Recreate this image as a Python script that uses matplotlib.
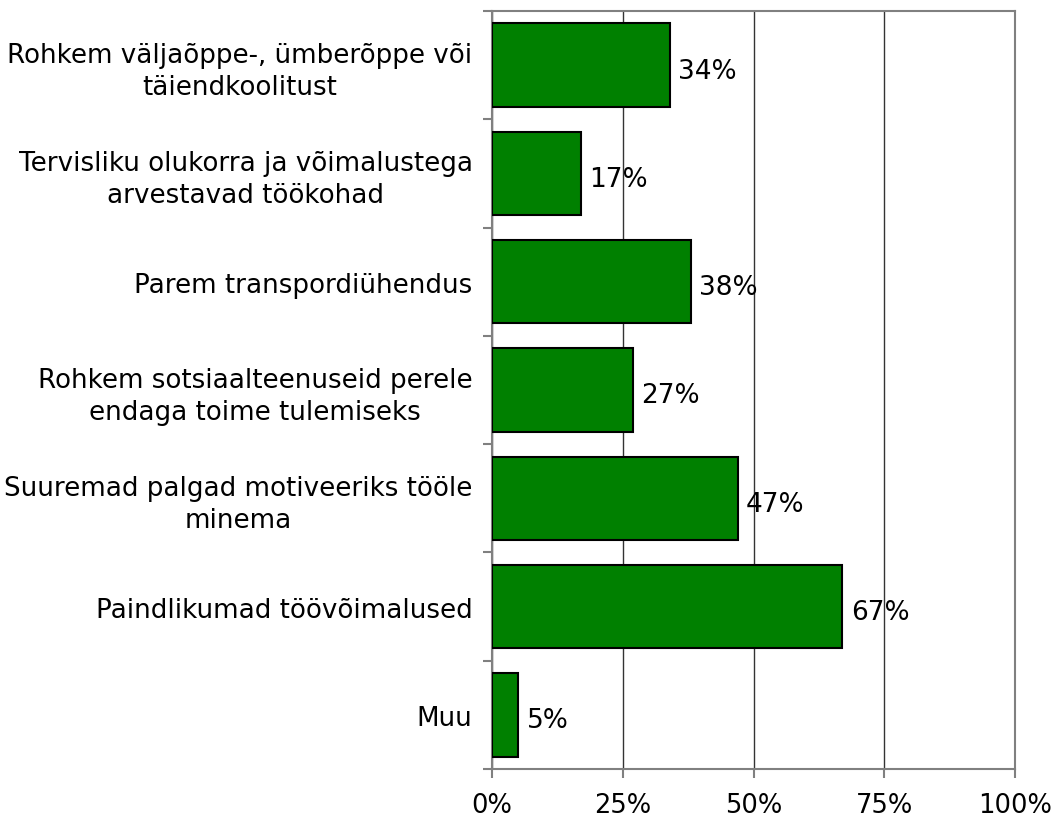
import matplotlib.pyplot as plt
from matplotlib.ticker import PercentFormatter

categories = [
    "Rohkem väljaõppe-, ümberõppe või\ntäiendkoolitust",
    "Tervisliku olukorra ja võimalustega\narvestavad töökohad",
    "Parem transpordiühendus",
    "Rohkem sotsiaalteenuseid perele\nendaga toime tulemiseks",
    "Suuremad palgad motiveeriks tööle\nminema",
    "Paindlikumad töövõimalused",
    "Muu",
]
values = [34, 17, 38, 27, 47, 67, 5]

fig = plt.figure(figsize=(10.58, 8.2), dpi=100)
ax = fig.add_axes([492 / 1058, 50 / 820, 523 / 1058, 758 / 820])

pos = list(range(len(categories)))
ax.barh(pos, values, height=0.77, color="#008000", edgecolor="black",
        linewidth=1.5, zorder=3)
for p, v in zip(pos, values):
    ax.text(v + 1.6, p + 0.05, f"{v}%", va="center", ha="left", fontsize=19,
            zorder=4)

ax.set_xlim(0, 100)
ax.set_ylim(len(categories) - 0.5, -0.5)
ax.set_xticks([0, 25, 50, 75, 100])
ax.xaxis.set_major_formatter(PercentFormatter(decimals=0))
ax.xaxis.grid(True, color="#333333", linewidth=1, zorder=0)

# category labels between boundary ticks
ax.set_yticks([p + 0.5 for p in [-1] + pos])
ax.set_yticklabels([])
ax.set_yticks(pos, minor=True)
ax.set_yticklabels(categories, minor=True, fontsize=18.8, ha="right",
                   multialignment="center", linespacing=1.28)
ax.tick_params(axis="y", which="minor", length=0, pad=14)
ax.tick_params(axis="y", which="major", length=6.5, width=1.5, color="#808080")
ax.tick_params(axis="x", length=6.5, width=1.5, color="#808080", labelsize=18.5,
               pad=10)

for s in ax.spines.values():
    s.set_color("#808080")
    s.set_linewidth(1.5)

fig.savefig("out.png", dpi=100)
